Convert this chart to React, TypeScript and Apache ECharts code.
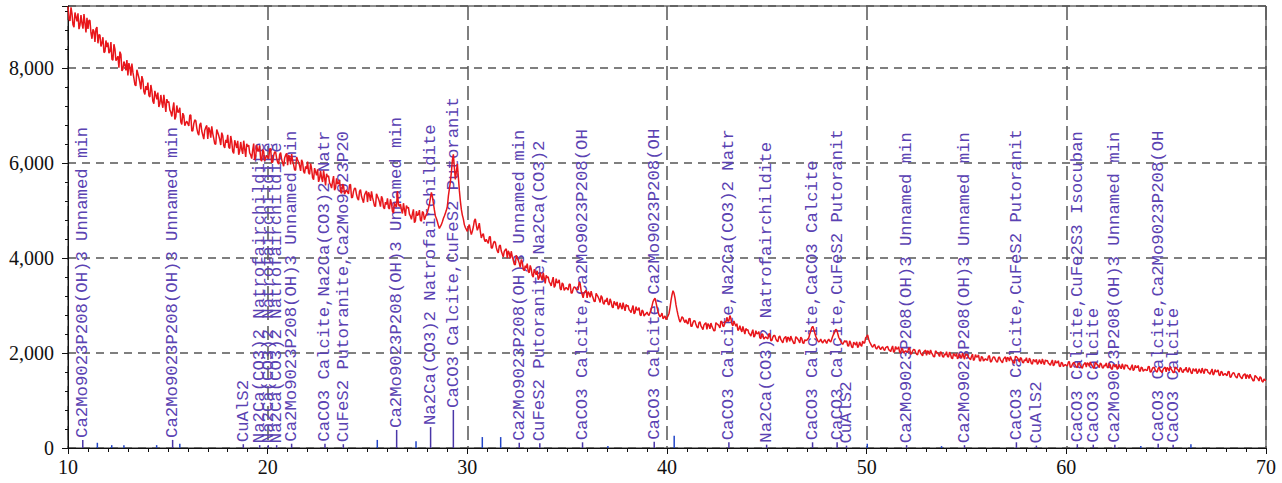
import React, { useEffect, useRef } from "react";
import * as echarts from "echarts";

// 2-theta sampling grid of the scan
const twoThetaStart = 10;
const twoThetaStep = 0.1;

// measured intensity (counts) at 10.0, 10.1, ... 70.0 (one row per degree)
const intensity = [
  9290, 8985, 9140, 8855, 9070, 9145, 8900, 8935, 9130, 8745,
  8820, 8995, 8610, 8765, 8820, 8515, 8690, 8525, 8320, 8575,
  8530, 8345, 8180, 8495, 8150, 8245, 8340, 7935, 8130, 7945,
  7840, 8015, 8090, 7785, 7620, 7875, 7690, 7825, 7500, 7615,
  7690, 7385, 7515, 7245, 7425, 7480, 7250, 7265, 7430, 7070,
  7270, 7115, 6975, 7270, 6970, 7065, 7160, 6810, 6995, 6840,
  6825, 7000, 6670, 6825, 6890, 6630, 6800, 6670, 6500, 6745,
  6505, 6680, 6770, 6515, 6390, 6640, 6490, 6635, 6360, 6485,
  6590, 6302, 6449, 6196, 6393, 6465, 6252, 6284, 6466, 6123,
  6340, 6207, 6089, 6406, 6128, 6245, 6362, 6034, 6241, 6108,
  6120, 6290, 6005, 6155, 6225, 6010, 6175, 6070, 5930, 6160,
  5950, 6107, 6184, 5956, 5843, 6065, 5937, 6064, 5821, 5928,
  6025, 5760, 5880, 5645, 5810, 5865, 5665, 5690, 5840, 5525,
  5705, 5580, 5470, 5720, 5475, 5560, 5645, 5355, 5515, 5390,
  5385, 5535, 5265, 5400, 5460, 5250, 5400, 5295, 5160, 5370,
  5175, 5325, 5400, 5190, 5085, 5295, 5175, 5295, 5070, 5175,
  5255, 5030, 5140, 4945, 5100, 5405, 5085, 5010, 5150, 4885,
  5050, 4920, 4810, 5020, 4780, 4890, 5005, 4775, 4950, 4865,
  4960, 5120, 5380, 5150, 4880, 4760, 4620, 4700, 4830, 4940,
  5080, 5450, 5800, 6180, 5650, 5980, 5420, 5020, 4820, 4640,
  4560, 4700, 4490, 4650, 4820, 4580, 4730, 4420, 4510, 4340,
  4345, 4445, 4210, 4300, 4330, 4145, 4250, 4145, 4020, 4170,
  3995, 4100, 4140, 3955, 3850, 4000, 3890, 3965, 3770, 3835,
  3880, 3690, 3765, 3595, 3700, 3730, 3585, 3595, 3690, 3465,
  3585, 3495, 3410, 3595, 3415, 3475, 3540, 3325, 3445, 3350,
  3350, 3445, 3260, 3345, 3380, 3330, 3490, 3310, 3160, 3295,
  3160, 3255, 3300, 3155, 3080, 3215, 3130, 3205, 3050, 3115,
  3160, 3011, 3077, 2948, 3044, 3075, 2961, 2972, 3058, 2884,
  2985, 2909, 2848, 2997, 2851, 2905, 2954, 2783, 2877, 2806,
  2860, 2790, 2900, 3080, 3150, 2960, 2800, 2790, 2720, 2780,
  2740, 2830, 3100, 3310, 3160, 2900, 2720, 2690, 2740, 2640,
  2635, 2720, 2560, 2640, 2675, 2545, 2635, 2570, 2490, 2615,
  2495, 2585, 2630, 2515, 2470, 2615, 2570, 2670, 2565, 2660,
  2750, 2680, 2725, 2570, 2615, 2615, 2500, 2490, 2560, 2395,
  2480, 2415, 2355, 2490, 2360, 2405, 2450, 2300, 2385, 2320,
  2315, 2399, 2258, 2332, 2366, 2255, 2334, 2283, 2212, 2326,
  2225, 2308, 2356, 2249, 2202, 2320, 2258, 2331, 2214, 2277,
  2270, 2320, 2460, 2560, 2420, 2300, 2230, 2290, 2210, 2280,
  2200, 2290, 2230, 2350, 2440, 2480, 2330, 2250, 2180, 2260,
  2255, 2143, 2206, 2109, 2197, 2235, 2148, 2166, 2250, 2210,
  2340, 2290, 2190, 2120, 2180, 2080, 2150, 2070, 2130, 2050,
  2125, 2071, 2027, 2148, 2039, 2085, 2131, 1997, 2078, 2024,
  2030, 2100, 1975, 2040, 2070, 1975, 2050, 2000, 1940, 2040,
  1950, 2026, 2062, 1968, 1919, 2020, 1971, 2027, 1928, 1979,
  2025, 1916, 1972, 1878, 1959, 1990, 1906, 1927, 1998, 1869,
  1955, 1901, 1857, 1978, 1869, 1915, 1961, 1827, 1908, 1854,
  1860, 1933, 1811, 1879, 1912, 1820, 1898, 1851, 1794, 1897,
  1810, 1888, 1926, 1834, 1787, 1920, 1865, 1903, 1806, 1859,
  1900, 1796, 1852, 1763, 1839, 1865, 1791, 1807, 1873, 1754,
  1830, 1781, 1742, 1853, 1754, 1795, 1836, 1712, 1788, 1739,
  1740, 1808, 1696, 1759, 1792, 1705, 1773, 1731, 1679, 1772,
  1705, 1773, 1811, 1724, 1682, 1780, 1733, 1786, 1694, 1747,
  1790, 1687, 1744, 1656, 1733, 1760, 1687, 1704, 1771, 1653,
  1730, 1681, 1642, 1753, 1654, 1695, 1736, 1612, 1688, 1639,
  1640, 1709, 1598, 1662, 1696, 1610, 1679, 1638, 1587, 1681,
  1605, 1674, 1713, 1627, 1586, 1685, 1639, 1693, 1602, 1656,
  1700, 1597, 1654, 1566, 1643, 1670, 1597, 1614, 1681, 1563,
  1640, 1591, 1552, 1663, 1564, 1605, 1646, 1522, 1598, 1549,
  1540, 1605, 1490, 1550, 1580, 1490, 1555, 1510, 1455, 1545,
  1455, 1518, 1551, 1459, 1412, 1505, 1453, 1501, 1404, 1452,
  1420,
];

// measured intensity (counts) at the half steps 10.05, 10.15, ... 69.95
const intensityHalf = [
  9018, 9273, 8908, 9163, 8978, 8813, 9108, 8823, 8938, 9053,
  8998, 8733, 8808, 8543, 8858, 8693, 8448, 8643, 8338, 8433,
  8308, 8543, 8158, 8393, 8188, 8003, 8278, 7973, 8068, 8163,
  8098, 7833, 7908, 7643, 7958, 7793, 7548, 7743, 7438, 7533,
  7422, 7639, 7298, 7515, 7336, 7175, 7428, 7159, 7250, 7341,
  7291, 7063, 7141, 6913, 7207, 7069, 6859, 7045, 6781, 6877,
  6778, 7005, 6674, 6901, 6732, 6581, 6844, 6585, 6686, 6787,
  6746, 6528, 6616, 6398, 6702, 6574, 6374, 6570, 6316, 6422,
  6331, 6565, 6241, 6475, 6313, 6169, 6439, 6187, 6295, 6403,
  6372, 6166, 6266, 6060, 6376, 6260, 6072, 6280, 6038, 6156,
  6085, 6299, 6017, 6231, 6093, 5971, 6217, 5999, 6101, 6198,
  6163, 5969, 6047, 5853, 6123, 6009, 5831, 6005, 5779, 5873,
  5788, 5987, 5690, 5889, 5736, 5599, 5830, 5597, 5684, 5771,
  5725, 5540, 5610, 5425, 5675, 5565, 5395, 5555, 5340, 5425,
  5348, 5543, 5273, 5468, 5333, 5213, 5438, 5228, 5318, 5408,
  5378, 5198, 5273, 5093, 5348, 5243, 5078, 5243, 5033, 5123,
  5053, 5234, 4981, 5162, 5072, 5124, 5131, 4934, 5017, 5100,
  5063, 4879, 4928, 4739, 4981, 4912, 4792, 4975, 4803, 4916,
  5040, 5260, 5290, 5010, 4830, 4680, 4660, 4760, 4880, 5000,
  5300, 5600, 6050, 5900, 5820, 5700, 5200, 4900, 4700, 4600,
  4650, 4580, 4560, 4780, 4690, 4640, 4560, 4480, 4390, 4390,
  4305, 4443, 4209, 4347, 4221, 4107, 4269, 4083, 4137, 4191,
  4149, 3987, 4029, 3867, 4053, 3951, 3801, 3915, 3729, 3783,
  3713, 3842, 3630, 3759, 3646, 3544, 3695, 3527, 3579, 3631,
  3600, 3464, 3515, 3379, 3562, 3481, 3356, 3473, 3315, 3377,
  3323, 3448, 3263, 3390, 3340, 3335, 3460, 3235, 3263, 3318,
  3293, 3168, 3213, 3088, 3253, 3178, 3063, 3168, 3023, 3078,
  3028, 3140, 2973, 3085, 2999, 2922, 3052, 2921, 2970, 3019,
  2998, 2888, 2931, 2821, 2972, 2907, 2806, 2903, 2775, 2827,
  2810, 2850, 2990, 3120, 3060, 2870, 2760, 2840, 2750, 2700,
  2780, 2950, 3220, 3260, 3010, 2800, 2650, 2760, 2680, 2700,
  2610, 2726, 2563, 2679, 2597, 2524, 2658, 2531, 2584, 2637,
  2618, 2509, 2558, 2464, 2636, 2597, 2527, 2655, 2558, 2651,
  2665, 2787, 2611, 2673, 2564, 2473, 2571, 2442, 2478, 2514,
  2491, 2393, 2431, 2333, 2467, 2409, 2319, 2405, 2291, 2337,
  2297, 2403, 2261, 2367, 2297, 2235, 2357, 2247, 2297, 2347,
  2335, 2245, 2291, 2201, 2343, 2293, 2211, 2305, 2199, 2257,
  2290, 2400, 2530, 2500, 2350, 2260, 2250, 2240, 2250, 2240,
  2260, 2250, 2290, 2400, 2500, 2410, 2290, 2210, 2220, 2230,
  2152, 2255, 2125, 2228, 2166, 2111, 2230, 2138, 2208, 2320,
  2380, 2230, 2150, 2160, 2110, 2120, 2100, 2110, 2080, 2110,
  2137, 2056, 2094, 2013, 2135, 2089, 2015, 2095, 2000, 2045,
  2012, 2105, 1981, 2074, 2013, 1959, 2066, 1970, 2014, 2058,
  2047, 1966, 2004, 1923, 2045, 1999, 1925, 2005, 1910, 1955,
  1923, 2017, 1894, 1988, 1928, 1875, 1983, 1888, 1933, 1978,
  1967, 1886, 1924, 1843, 1965, 1919, 1845, 1925, 1830, 1875,
  1844, 1940, 1819, 1915, 1857, 1806, 1916, 1823, 1870, 1917,
  1908, 1829, 1869, 1790, 1929, 1896, 1810, 1882, 1789, 1836,
  1806, 1892, 1778, 1865, 1809, 1760, 1859, 1771, 1812, 1854,
  1843, 1768, 1803, 1728, 1840, 1797, 1729, 1802, 1714, 1756,
  1727, 1815, 1703, 1792, 1738, 1691, 1792, 1706, 1749, 1798,
  1794, 1721, 1758, 1685, 1799, 1758, 1692, 1767, 1681, 1725,
  1696, 1783, 1670, 1758, 1703, 1655, 1755, 1668, 1710, 1753,
  1743, 1668, 1703, 1628, 1740, 1697, 1629, 1702, 1614, 1656,
  1627, 1716, 1605, 1695, 1642, 1596, 1698, 1613, 1657, 1702,
  1694, 1622, 1660, 1588, 1703, 1663, 1598, 1674, 1589, 1634,
  1606, 1693, 1580, 1668, 1613, 1565, 1665, 1578, 1620, 1663,
  1653, 1578, 1613, 1538, 1650, 1607, 1539, 1612, 1524, 1566,
  1525, 1610, 1495, 1581, 1524, 1474, 1572, 1483, 1523, 1562,
  1541, 1463, 1495, 1417, 1526, 1480, 1409, 1479, 1388, 1424,
];

// reference pattern sticks: position (2-theta), height (counts), phase label
const stickPos = [
  10.74, 11.47, 12.19, 12.8, 14.44, 15.24, 15.6, 18.78, 19.6, 20.03, 20.45, 21.2,
  22.87, 23.79, 25.49, 26.46, 27.43, 28.16, 29.3, 30.75, 31.67, 32.6, 33.63, 35.77,
  37.04, 39.36, 40.36, 43.1, 44.99, 47.29, 48.52, 48.99, 50.03, 52.0, 53.75, 54.9,
  57.5, 58.5, 60.55, 61.35, 62.43, 63.73, 64.6, 65.35, 66.24,
];
const stickHeight = [
  170, 110, 60, 60, 60, 170, 90, 80, 60, 60, 60, 90,
  90, 80, 170, 380, 140, 440, 800, 230, 230, 110, 100, 120,
  40, 130, 260, 120, 70, 120, 120, 50, 90, 60, 40, 60,
  120, 50, 80, 70, 70, 40, 90, 70, 80,
];
const stickLabel = [
  "Ca2Mo9023P208(OH)3 Unnamed min", "", "", "", "",
  "Ca2Mo9023P208(OH)3 Unnamed min", "",
  "CuAlS2",
  "Na2Ca(CO3)2 Natrofairchildite",
  "Na2Ca(CO3)2 Natrofairchildite",
  "Na2Ca(CO3)2 Natrofairchildite",
  "Ca2Mo9023P208(OH)3 Unnamed min",
  "CaCO3 Calcite,Na2Ca(CO3)2 Natr",
  "CuFeS2 Putoranite,Ca2Mo9023P20",
  "",
  "Ca2Mo9023P208(OH)3 Unnamed min",
  "",
  "Na2Ca(CO3)2 Natrofairchildite",
  "CaCO3 Calcite,CuFeS2 Putoranit",
  "", "",
  "Ca2Mo9023P208(OH)3 Unnamed min",
  "CuFeS2 Putoranite,Na2Ca(CO3)2",
  "CaCO3 Calcite,Ca2Mo9023P208(OH",
  "",
  "CaCO3 Calcite,Ca2Mo9023P208(OH",
  "",
  "CaCO3 Calcite,Na2Ca(CO3)2 Natr",
  "Na2Ca(CO3)2 Natrofairchildite",
  "CaCO3 Calcite,CaCO3 Calcite",
  "CaCO3 Calcite,CuFeS2 Putoranit",
  "CuAlS2",
  "",
  "Ca2Mo9023P208(OH)3 Unnamed min",
  "",
  "Ca2Mo9023P208(OH)3 Unnamed min",
  "CaCO3 Calcite,CuFeS2 Putoranit",
  "CuAlS2",
  "CaCO3 Calcite,CuFe2S3 Isocuban",
  "CaCO3 Calcite",
  "Ca2Mo9023P208(OH)3 Unnamed min",
  "",
  "CaCO3 Calcite,Ca2Mo9023P208(OH",
  "CaCO3 Calcite",
  "",
];

const xMin = 10;
const xMax = 70;
const yMin = 0;
const yMax = 9300;

export default function App() {
  const ref = useRef<HTMLDivElement>(null);

  useEffect(() => {
    if (!ref.current) return;
    const chart = echarts.init(ref.current, undefined, { renderer: "svg" });

    const lineData: number[][] = [];
    intensity.forEach((v, i) => {
      const x = twoThetaStart + i * twoThetaStep;
      lineData.push([+x.toFixed(2), v]);
      if (i < intensityHalf.length) {
        lineData.push([+(x + twoThetaStep / 2).toFixed(2), intensityHalf[i]]);
      }
    });
    const stickData = stickPos.map((p, i) => [p, stickHeight[i], i]);

    const axisFont = {
      fontFamily: '"Liberation Serif", "Times New Roman", serif',
      fontSize: 20,
      color: "#111",
    };

    chart.setOption({
      animation: false,
      backgroundColor: "#fff",
      grid: {
        left: 68,
        right: 16,
        top: 6,
        bottom: 35,
        show: true,
        borderColor: "#222",
        borderWidth: 1,
      },
      xAxis: {
        type: "value",
        min: xMin,
        max: xMax,
        interval: 10,
        axisLine: { show: true, lineStyle: { color: "#111", width: 1 } },
        axisTick: { show: true, length: 6, lineStyle: { color: "#111" } },
        minorTick: { show: true, splitNumber: 10, length: 4, lineStyle: { color: "#111" } },
        axisLabel: { ...axisFont, margin: 9 },
        splitLine: {
          show: true,
          lineStyle: { color: "#555", width: 1.5, type: [14, 6] },
        },
      },
      yAxis: {
        type: "value",
        min: yMin,
        max: yMax,
        interval: 2000,
        axisLine: { show: true, lineStyle: { color: "#111", width: 1 } },
        axisTick: { show: true, length: 6, lineStyle: { color: "#111" } },
        minorTick: { show: true, splitNumber: 5, length: 3, lineStyle: { color: "#111" } },
        axisLabel: {
          ...axisFont,
          margin: 14,
          showMaxLabel: false,
          formatter: (v: number) => v.toLocaleString("en-US"),
        },
        splitLine: {
          show: true,
          lineStyle: { color: "#555", width: 1.5, type: [8, 6] },
        },
      },
      series: [
        {
          type: "custom",
          z: 2,
          clip: false,
          data: stickData,
          renderItem: (params: any, api: any) => {
            const x = api.value(0);
            const h = api.value(1);
            const idx = api.value(2);
            const p0 = api.coord([x, 0]);
            const p1 = api.coord([x, h]);
            const label = stickLabel[idx];
            const children: any[] = [
              {
                type: "line",
                shape: { x1: p0[0], y1: p0[1], x2: p1[0], y2: p1[1] },
                style: { stroke: label ? "#4a37a8" : "#2346c8", lineWidth: 1.5 },
              },
            ];
            if (label) {
              children.push({
                type: "text",
                x: p1[0],
                y: p1[1] - 2,
                rotation: Math.PI / 2,
                style: {
                  text: label,
                  fill: "#5a42b2",
                  font: '17.3px "Liberation Mono", "Courier New", monospace',
                  align: "left",
                  verticalAlign: "middle",
                },
              });
            }
            return { type: "group", children };
          },
        },
        {
          type: "line",
          z: 3,
          data: lineData,
          showSymbol: false,
          symbol: "none",
          lineStyle: { color: "#e8161b", width: 1.5 },
        },
      ],
    });

    return () => chart.dispose();
  }, []);

  return (
    <div
      ref={ref}
      style={{ position: "fixed", left: 0, top: 0, width: 1282, height: 483 }}
    />
  );
}
